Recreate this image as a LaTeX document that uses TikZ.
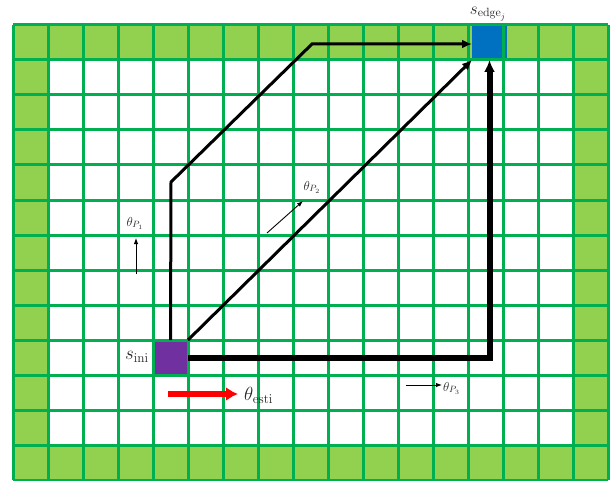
\RequirePackage{fix-cm}
\documentclass[tikz,border=0pt]{standalone}
\usetikzlibrary{arrows.meta}
\definecolor{gline}{HTML}{00B050}
\definecolor{gfill}{HTML}{92D050}
\definecolor{bcell}{HTML}{0070C0}
\definecolor{pcell}{HTML}{7030A0}
\tikzset{
  cell/.style={minimum size=35pt, inner sep=0pt, outer sep=0pt},
  path/.style={line width=3pt, -{Latex[length=10pt,width=9pt]}},
  small/.style={line width=0.9pt, -{Latex[length=6pt,width=4.5pt]}},
  biglbl/.style={inner sep=1pt, text=black!85, font=\fontsize{19}{22}\selectfont},
  smlbl/.style={inner sep=1pt, text=black!85, font=\fontsize{13}{15}\selectfont},
}
\begin{document}
\begin{tikzpicture}[x=1pt,y=-1pt]
\useasboundingbox (0,0) rectangle (615,481);
% border cells
\fill[gfill] (13,25) rectangle (608,60);
\fill[gfill] (13,445) rectangle (608,480);
\fill[gfill] (13,25) rectangle (48,480);
\fill[gfill] (573,25) rectangle (608,480);
% special cells
\node[cell, fill=bcell] (sedge) at (489.5,42.5) {};
\node[cell, fill=pcell] (sini) at (170.5,357.5) {};
% grid lines
\foreach \i in {0,...,17} \draw[gline, line width=3pt] (13+35*\i,25) -- (13+35*\i,480);
\foreach \j in {0,...,13} \draw[gline, line width=3pt] (13,25+35*\j) -- (608,25+35*\j);
% paths
\coordinate (p1a) at (171,182);
\coordinate (p1b) at (312,44);
\draw[path, line join=miter] (sini.north) -- (p1a) -- (p1b) -- (p1b -| sedge.west);
\draw[path] (sini.north east) -- (sedge.south west);
\draw[line width=6pt, line join=miter, -{Latex[length=12pt,width=11pt]}] (sini.east) -- (sedge.south |- sini.east) -- (sedge.south);
% labels
\node[biglbl, font=\fontsize{17}{20}\selectfont] (ledge) at (488,14) {$s_{\mathrm{edge}_j}$};
\node[biglbl, anchor=east] (lini) at (150,357) {$s_{\mathrm{ini}}$};
% theta P1
\coordinate (a1s) at (136,274);
\coordinate (a1e) at (136,238);
\draw[small] (a1s) -- (a1e);
\node[smlbl] (l1) at (135,223) {$\theta_{P_1}$};
% theta P2
\coordinate (a2s) at (267,233);
\coordinate (a2e) at (303,201);
\draw[small] (a2s) -- (a2e);
\node[smlbl] (l2) at (312,187) {$\theta_{P_2}$};
% theta P3
\coordinate (a3s) at (406,385);
\coordinate (a3e) at (442,385);
\draw[small] (a3s) -- (a3e);
\node[smlbl, anchor=west] (l3) at (442,388) {$\theta_{P_3}$};
% theta esti
\coordinate (ars) at (168,394);
\coordinate (are) at (238,394);
\draw[red, line width=6pt, -{Latex[length=12pt,width=14pt]}] (ars) -- (are);
\node[biglbl, anchor=west] (lest) at (243,395) {$\theta_{\mathrm{esti}}$};
\end{tikzpicture}
\end{document}
